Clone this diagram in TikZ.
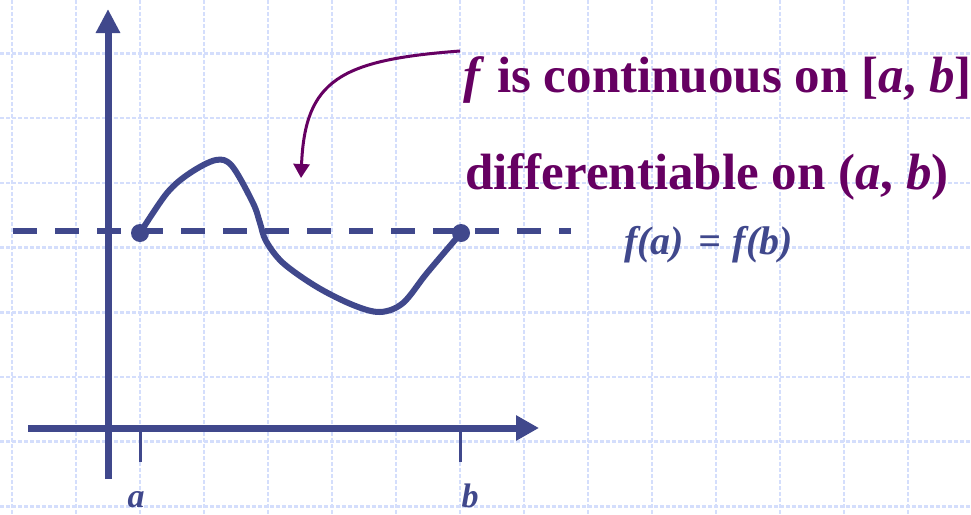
\documentclass[tikz,border=0pt]{standalone}
\usepackage{fontspec}
\setmainfont{Liberation Serif}
\usetikzlibrary{arrows.meta}
\definecolor{axblue}{RGB}{64,72,140}
\definecolor{txpurple}{RGB}{102,0,98}
\definecolor{gridblue}{RGB}{212,222,252}
\begin{document}
\begin{tikzpicture}[x=1pt,y=-1pt,
  gridline/.style={gridblue,line width=2.5pt,dash pattern=on 4pt off 2pt},
  axis/.style={axblue,line width=7pt},
  tickmark/.style={axblue,line width=3pt},
  levelline/.style={axblue,line width=6pt,dash pattern=on 24pt off 18pt},
  curveline/.style={axblue,line width=6pt,line join=round,line cap=round},
  enddot/.style={circle,fill=axblue,inner sep=0pt,minimum size=18pt},
  pointer/.style={txpurple,line width=3pt,-{Triangle[length=14pt,width=16pt]}},
  bigtext/.style={txpurple,anchor=base west,inner sep=0pt,font=\fontsize{51}{60}\selectfont\bfseries},
  eqtext/.style={axblue,anchor=base west,inner sep=0pt,font=\fontsize{40}{46}\selectfont\bfseries\itshape},
  axlabel/.style={axblue,anchor=base,inner sep=0pt,font=\fontsize{34}{40}\selectfont\bfseries\itshape}
]
\useasboundingbox (0,0) rectangle (971,514);
\fill[white] (0,0) rectangle (971,514);
% grid
\foreach \i in {0,...,15} { \draw[gridline] (12+64*\i,0) -- (12+64*\i,514); }
\foreach \j in {0,...,7} { \draw[gridline] (0,53.5+64.7*\j) -- (971,53.5+64.7*\j); }
% axes
\coordinate (ybot) at (108,479);
\coordinate (ytop) at (108,9);
\coordinate (xleft) at (28,428);
\coordinate (xright) at (539,428);
\draw[axis,-{Triangle[length=24pt,width=23pt]}] (ybot) -- (ytop);
\draw[axis,-{Triangle[length=23pt,width=24pt]}] (xleft) -- (xright);
% ticks
\coordinate (ta1) at (140,428); \coordinate (ta2) at (140,462);
\coordinate (tb1) at (460,428); \coordinate (tb2) at (460,462);
\draw[tickmark] (ta1) -- (ta2);
\draw[tickmark] (tb1) -- (tb2);
\node[axlabel] (la) at (136,507) {a};
\node[axlabel] (lb) at (470,507) {b};
% dashed level
\coordinate (l1) at (13,231);
\coordinate (l2) at (571,231);
\draw[levelline] (l1) -- (l2);
% curve
\draw[curveline] plot[smooth,tension=0.55] coordinates {(140,233) (167,193) (190,173) (216,160) (232,166) (253,203) (260,223) (266,241) (283,263) (317,287) (353,305) (380,312) (403,303) (427,273) (461,233)};
\node[enddot] (pa) at (140,233) {};
\node[enddot] (pb) at (461,233) {};
% pointer
\coordinate (p1) at (460,51);
\coordinate (p2) at (301,178);
\draw[pointer] (p1) .. controls (340,60) and (305,80) .. (p2);
% texts
\node[bigtext] (t1) at (463,92.5) {\textit{f} is continuous on [\textit{a}, \textit{b}]};
\node[bigtext] (t2) at (465,189) {differentiable on (\textit{a}, \textit{b})};
\node[eqtext] (t3) at (624,254) {f(a)\hspace{4pt} = \hspace{2pt}f(b)};
\end{tikzpicture}
\end{document}
